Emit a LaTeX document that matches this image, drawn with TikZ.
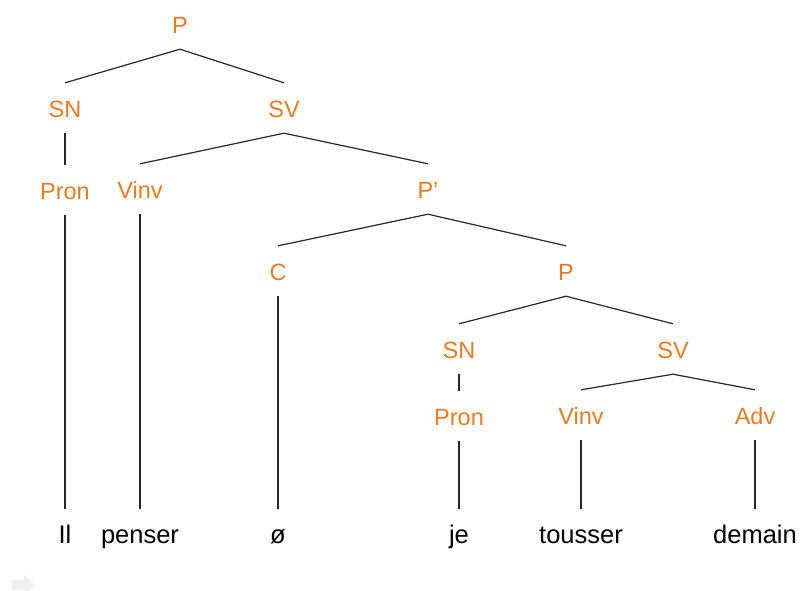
\documentclass[tikz,border=0pt]{standalone}
\usepackage{fontspec}
\setmainfont{Liberation Sans}
\definecolor{lblorange}{RGB}{236,122,34}
\definecolor{edgegray}{RGB}{40,40,40}
\begin{document}
\begin{tikzpicture}[x=1pt,y=-1pt,
  cat/.style={text=lblorange,font=\fontsize{23.5}{26}\selectfont,inner sep=0pt,minimum height=50pt,text height=20pt,text depth=2pt},
  word/.style={text=black,font=\fontsize{25.5}{28}\selectfont,inner sep=0pt,minimum height=50pt,text height=21pt,text depth=2pt},
  edge/.style={draw=edgegray,line width=1.2pt}]
\useasboundingbox (0,0) rectangle (800,590);
\fill[white] (0,0) rectangle (800,590);
% categories
\node[cat] (P1) at (180,24) {P};
\node[cat] (SN1) at (65,108) {SN};
\node[cat] (SV1) at (284,108) {SV};
\node[cat] (Pron1) at (65,190) {Pron};
\node[cat] (Vinv1) at (140,189) {Vinv};
\node[cat] (Pp) at (428,189) {P’};
\node[cat] (C) at (278,271) {C};
\node[cat] (P2) at (566,271) {P};
\node[cat] (SN2) at (459,349) {SN};
\node[cat] (SV2) at (673,349) {SV};
\node[cat] (Pron2) at (459,416) {Pron};
\node[cat] (Vinv2) at (581,415) {Vinv};
\node[cat] (Adv) at (755,415) {Adv};
% words
\node[word] (w1) at (65,534) {Il};
\node[word] (w2) at (140,534) {penser};
\node[word] (w3) at (278,534) {ø};
\node[word] (w4) at (459,534) {je};
\node[word] (w5) at (581,534) {tousser};
\node[word] (w6) at (755,534) {demain};
% edges
\draw[edge] (SN1.north) -- (P1.south) -- (SV1.north);
\draw[edge] (SN1.south) -- (Pron1.north);
\draw[edge] (Vinv1.north) -- (SV1.south) -- (Pp.north);
\draw[edge] (C.north) -- (Pp.south) -- (P2.north);
\draw[edge] (SN2.north) -- (P2.south) -- (SV2.north);
\draw[edge] (SN2.south) -- (Pron2.north);
\draw[edge] (Vinv2.north) -- (SV2.south) -- (Adv.north);
\draw[edge] (Pron1.south) -- (w1.north);
\draw[edge] (Vinv1.south) -- (w2.north);
\draw[edge] (C.south) -- (w3.north);
\draw[edge] (Pron2.south) -- (w4.north);
\draw[edge] (Vinv2.south) -- (w5.north);
\draw[edge] (Adv.south) -- (w6.north);
% faint arrow icon
\fill[black!6] (12,580) -- (24,580) -- (24,575) -- (35,585) -- (24,595) -- (24,590) -- (12,590) -- cycle;
\end{tikzpicture}
\end{document}
